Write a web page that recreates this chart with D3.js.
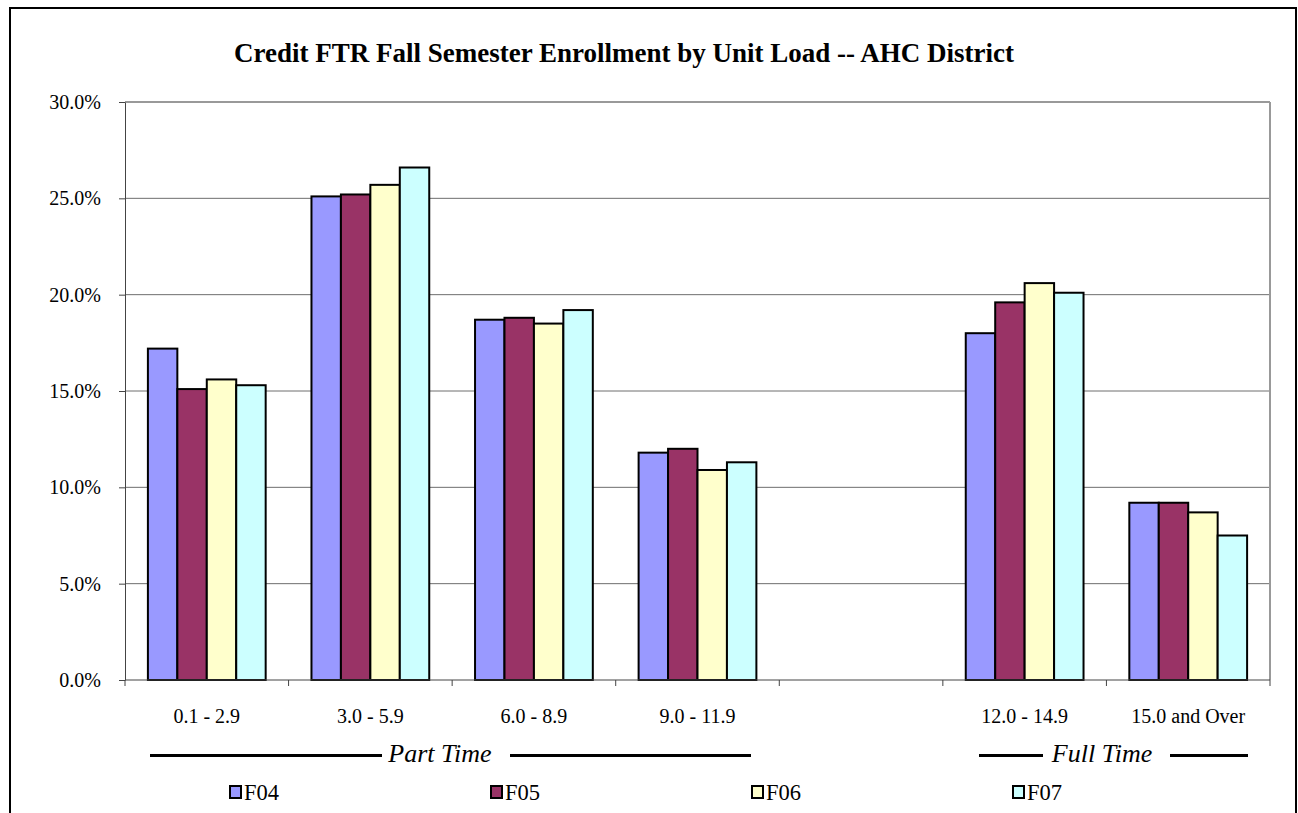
<!DOCTYPE html>
<html lang="en">
<head>
<meta charset="utf-8">
<title>Credit FTR Fall Semester Enrollment by Unit Load</title>
<script src="https://cdn.jsdelivr.net/npm/d3@7"></script>
<style>
  body { margin: 0; background: #fff; }
  text { font-family: "Liberation Serif", "Times New Roman", serif; }
</style>
</head>
<body>
<script>
// data (percent of enrollment)
var categories = ["0.1 - 2.9", "3.0 - 5.9", "6.0 - 8.9", "9.0 - 11.9", "", "12.0 - 14.9", "15.0 and Over"];
var seriesNames = ["F04", "F05", "F06", "F07"];
var seriesColors = ["#9999FF", "#993366", "#FFFFCC", "#CCFFFF"];
var F04 = [17.2, 25.1, 18.7, 11.8, null, 18.0, 9.2];
var F05 = [15.1, 25.2, 18.8, 12.0, null, 19.6, 9.2];
var F06 = [15.6, 25.7, 18.5, 10.9, null, 20.6, 8.7];
var F07 = [15.3, 26.6, 19.2, 11.3, null, 20.1, 7.5];
var yTicks = [0, 5, 10, 15, 20, 25, 30];
var groupLabels = ["Part Time", "Full Time"];

var w = 1298, h = 813;
var plotL = 125, plotR = 1270, plotT = 102, plotB = 680;

var svg = d3.select("body").append("svg")
    .attr("width", w)
    .attr("height", h);

// outer frame
svg.append("rect")
    .attr("x", 10).attr("y", 8)
    .attr("width", 1286).attr("height", 820)
    .attr("fill", "#fff")
    .attr("stroke", "#000")
    .attr("stroke-width", 2);

svg.append("text")
    .attr("x", 624).attr("y", 62)
    .attr("text-anchor", "middle")
    .attr("font-size", "27px")
    .attr("font-weight", "bold")
    .text("Credit FTR Fall Semester Enrollment by Unit Load -- AHC District");

var xScale = d3.scaleBand()
    .domain(d3.range(categories.length))
    .range([plotL, plotR])
    .padding(0);

var bw = xScale.bandwidth();
var xInner = d3.scaleBand()
    .domain(seriesNames)
    .range([bw * 0.14, bw * 0.86])
    .padding(0);

var yScale = d3.scaleLinear()
    .domain([0, 30])
    .range([plotB, plotT]);

// gridlines
svg.append("g")
    .selectAll("line")
    .data(yTicks.slice(1))
    .enter()
    .append("line")
    .attr("x1", plotL).attr("x2", plotR)
    .attr("y1", function(d) { return yScale(d); })
    .attr("y2", function(d) { return yScale(d); })
    .attr("stroke", function(d) { return d === 30 ? "#999" : "#6e6e6e"; })
    .attr("stroke-width", function(d) { return d === 30 ? 2 : 1; });

// right border of plot area
svg.append("line")
    .attr("x1", plotR).attr("x2", plotR)
    .attr("y1", plotT).attr("y2", plotB)
    .attr("stroke", "#999")
    .attr("stroke-width", 2);

// bars
var series = [F04, F05, F06, F07];
series.forEach(function(vals, si) {
    svg.append("g")
        .selectAll("rect")
        .data(vals.map(function(v, i) { return {i: i, v: v}; }).filter(function(d) { return d.v !== null; }))
        .enter()
        .append("rect")
        .attr("x", function(d) { return xScale(d.i) + xInner(seriesNames[si]); })
        .attr("y", function(d) { return yScale(d.v); })
        .attr("width", xInner.bandwidth())
        .attr("height", function(d) { return yScale(0) - yScale(d.v); })
        .attr("fill", seriesColors[si])
        .attr("stroke", "#000")
        .attr("stroke-width", 2);
});

// y axis
var yAxis = d3.axisLeft(yScale)
    .tickValues(yTicks)
    .tickSize(6)
    .tickSizeOuter(0)
    .tickFormat(function(d) { return d.toFixed(1) + "%"; });
var ya = svg.append("g")
    .attr("transform", "translate(" + plotL + ",0)")
    .call(yAxis);
ya.selectAll("text")
    .attr("font-size", "20px")
    .attr("font-family", "Liberation Serif")
    .attr("fill", "#000")
    .attr("x", -24);
ya.selectAll("line, path").attr("stroke", "#444");

// x axis with ticks at category boundaries
svg.append("line")
    .attr("x1", plotL).attr("x2", plotR)
    .attr("y1", plotB).attr("y2", plotB)
    .attr("stroke", "#444");
svg.append("g")
    .selectAll("line")
    .data(d3.range(categories.length + 1))
    .enter()
    .append("line")
    .attr("x1", function(d) { return plotL + d * bw; })
    .attr("x2", function(d) { return plotL + d * bw; })
    .attr("y1", plotB).attr("y2", plotB + 6)
    .attr("stroke", "#444");
svg.append("g")
    .selectAll("text")
    .data(categories)
    .enter()
    .append("text")
    .attr("x", function(d, i) { return xScale(i) + bw / 2; })
    .attr("y", 723)
    .attr("text-anchor", "middle")
    .attr("font-size", "20px")
    .text(function(d) { return d; });

// part time / full time labels with rules on either side
var gLab = svg.append("g");
var labelX = [440, 1102];
var ruleSegs = [[[150, 382], [510, 751]], [[979, 1043], [1170, 1248]]];
groupLabels.forEach(function(lab, gi) {
    gLab.append("text")
        .attr("x", labelX[gi]).attr("y", 762)
        .attr("text-anchor", "middle")
        .attr("font-size", "26px")
        .attr("font-style", "italic")
        .text(lab);
    ruleSegs[gi].forEach(function(l) {
        gLab.append("line")
            .attr("x1", l[0]).attr("x2", l[1])
            .attr("y1", 755.5).attr("y2", 755.5)
            .attr("stroke", "#000")
            .attr("stroke-width", 3);
    });
});

// legend
var legend = svg.append("g")
    .selectAll("g")
    .data(seriesNames)
    .enter()
    .append("g")
    .attr("transform", function(d, i) { return "translate(" + (230 + i * 261) + ",786)"; });
legend.append("rect")
    .attr("width", 11).attr("height", 12)
    .attr("fill", function(d, i) { return seriesColors[i]; })
    .attr("stroke", "#000")
    .attr("stroke-width", 2);
legend.append("text")
    .attr("x", 14).attr("y", 14)
    .attr("font-size", "22.5px")
    .text(function(d) { return d; });
</script>
</body>
</html>
